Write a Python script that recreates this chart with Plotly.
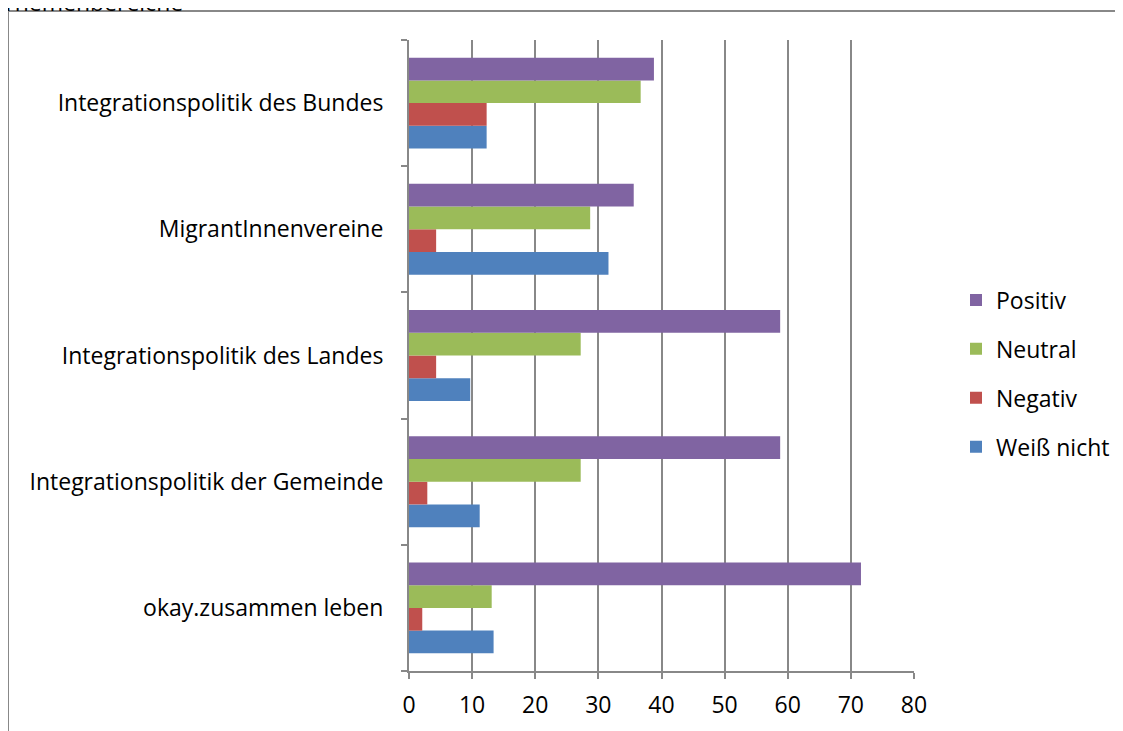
import plotly.graph_objects as go

categories = ["okay.zusammen leben", "Integrationspolitik der Gemeinde",
              "Integrationspolitik des Landes", "MigrantInnenvereine",
              "Integrationspolitik des Bundes"]
weiss_nicht = [13.4, 11.2, 9.7, 31.6, 12.3]
negativ = [2.1, 2.9, 4.3, 4.3, 12.3]
neutral = [13.1, 27.2, 27.2, 28.7, 36.7]
positiv = [71.6, 58.8, 58.8, 35.6, 38.8]
x_ticks = [0, 10, 20, 30, 40, 50, 60, 70, 80]

series = [("Weiß nicht", weiss_nicht, "#4F81BD", 4),
          ("Negativ", negativ, "#C0504D", 3),
          ("Neutral", neutral, "#9BBB59", 2),
          ("Positiv", positiv, "#8064A2", 1)]

FONT = "Open Sans"
FS = 23
fig = go.Figure()
for name, vals, col, rank in series:
    fig.add_trace(go.Bar(y=categories, x=vals, name=name, orientation="h",
                         marker=dict(color=col, line=dict(width=0)),
                         legendgroup=name, legendrank=rank))

# figure is drawn 8px in from the page corner (body margin)
OFF = 8
W, H = 1123, 731
L, R, T, B = 409 - OFF, 1123 - 914 + OFF, 40 - OFF, 731 - 671 + OFF
pw, ph = W - L - R, H - T - B

def px_x(sx):
    return (sx - OFF - L) / pw

def px_y(sy):
    return (H - B - (sy - OFF)) / ph

fig.update_layout(
    width=W, height=H,
    margin=dict(l=L, r=R, t=T, b=B),
    paper_bgcolor="white", plot_bgcolor="white",
    barmode="group", bargap=0.28, bargroupgap=0,
    font=dict(family=FONT, size=FS, color="black"),
    legend=dict(x=px_x(956), y=px_y(373.5), xanchor="left", yanchor="middle",
                traceorder="grouped", tracegroupgap=16,
                font=dict(family=FONT, size=FS, color="black")),
    xaxis=dict(range=[0, 80], tickvals=x_ticks, showgrid=True,
               gridcolor="#888888", gridwidth=2, showline=True,
               linecolor="#888888", linewidth=2, ticks="outside",
               ticklen=6, tickcolor="#888888", tickwidth=2, zeroline=False,
               ticklabelstandoff=6, tickfont=dict(size=FS)),
    yaxis=dict(type="category", categoryorder="array", categoryarray=categories,
               tickson="boundaries", ticks="outside", ticklen=6,
               tickcolor="#888888", tickwidth=2, showline=True,
               linecolor="#888888", linewidth=2, showgrid=False,
               ticklabelstandoff=19, tickfont=dict(size=FS)),
    showlegend=True,
)

fig.add_shape(type="rect", xref="paper", yref="paper",
              x0=px_x(8), x1=px_x(1122), y0=px_y(760), y1=px_y(11),
              line=dict(color="#888888", width=2), fillcolor="rgba(0,0,0,0)",
              layer="below")

fig.add_annotation(text="Themenbereiche", xref="paper", yref="paper",
                   x=px_x(0), y=px_y(20), xanchor="left", yanchor="bottom",
                   showarrow=False, font=dict(family=FONT, size=FS, color="black"))

fig.write_html("out.html")
